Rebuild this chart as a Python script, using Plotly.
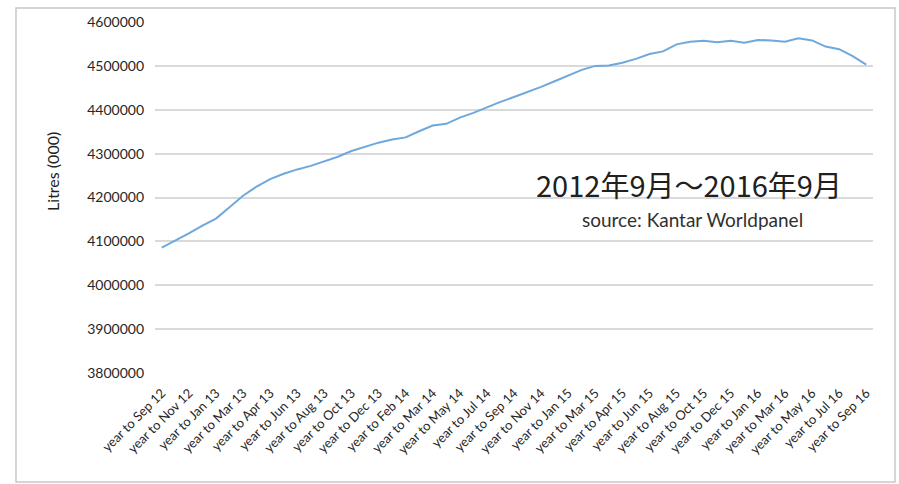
import plotly.graph_objects as go

# Period index (4-weekly Kantar periods) and annual-rolling volume, Litres (000)
periods = list(range(53))
volume = [
    4086000, 4102000, 4118000, 4136000, 4152000, 4178000, 4204000, 4225000,
    4242000, 4254000, 4264000, 4272000, 4282000, 4293000, 4306000, 4316000,
    4325000, 4332000, 4337000, 4351000, 4364000, 4368000, 4382000, 4393000,
    4406000, 4418000, 4429000, 4440000, 4452000, 4465000, 4478000, 4491000,
    4500000, 4501000, 4507000, 4516000, 4527000, 4533000, 4549000, 4555000,
    4557000, 4554000, 4557000, 4553000, 4559000, 4558000, 4555000, 4563000,
    4558000, 4544000, 4538000, 4522000, 4503000,
]

tick_positions = list(range(0, 53, 2))
tick_labels = [
    'year to Sep 12', 'year to Nov 12', 'year to Jan 13', 'year to Mar 13',
    'year to Apr 13', 'year to Jun 13', 'year to Aug 13', 'year to Oct 13',
    'year to Dec 13', 'year to Feb 14', 'year to Mar 14', 'year to May 14',
    'year to Jul 14', 'year to Sep 14', 'year to Nov 14', 'year to Jan 15',
    'year to Mar 15', 'year to Apr 15', 'year to Jun 15', 'year to Aug 15',
    'year to Oct 15', 'year to Dec 15', 'year to Jan 16', 'year to Mar 16',
    'year to May 16', 'year to Jul 16', 'year to Sep 16',
]

LINE_BLUE = '#6fa8dc'
GRID_GREY = '#d9d9d9'
TEXT_COL = '#262626'

fig = go.Figure()

fig.add_trace(go.Scatter(
    x=periods,
    y=volume,
    mode='lines',
    line=dict(color=LINE_BLUE, width=2),
    showlegend=False,
))

fig.update_layout(
    width=899,
    height=484,
    margin=dict(l=155, r=26, t=22, b=111),
    paper_bgcolor='white',
    plot_bgcolor='white',
    font=dict(family='Lato, Carlito, sans-serif', color=TEXT_COL),
)

fig.update_xaxes(
    range=[-0.5, 52.5],
    tickmode='array',
    tickvals=tick_positions,
    ticktext=tick_labels,
    tickangle=-45,
    tickfont=dict(size=13, color=TEXT_COL),
    showgrid=False,
    zeroline=False,
    showline=False,
    ticks='',
    ticklabelstandoff=9,
    automargin=False,
)

fig.update_yaxes(
    range=[3800000, 4600000],
    dtick=100000,
    tickformat='d',
    tickfont=dict(size=14, color=TEXT_COL),
    showgrid=True,
    gridcolor=GRID_GREY,
    gridwidth=1.5,
    zeroline=False,
    showline=False,
    ticks='',
    ticklabelstandoff=10,
    automargin=False,
)

# y axis title placed like the original
fig.add_annotation(
    text='Litres (000)', textangle=-90,
    xref='paper', yref='paper', x=-0.142, y=0.573,
    xanchor='center', yanchor='middle',
    showarrow=False, font=dict(size=16, color='#202020'),
)

# period and source note
fig.add_annotation(
    text='2012年9月～2016年9月',
    xref='paper', yref='paper', x=0.744, y=0.539,
    xanchor='center', yanchor='middle',
    showarrow=False,
    font=dict(size=29, color='#202020', family='Noto Sans CJK JP'),
)
fig.add_annotation(
    text='source: Kantar Worldpanel',
    xref='paper', yref='paper', x=0.748, y=0.436,
    xanchor='center', yanchor='middle',
    showarrow=False,
    font=dict(size=19, color='#303030'),
)

# light frame around the chart
fig.add_shape(
    type='rect', xref='paper', yref='paper',
    x0=-0.1936, x1=1.0306, y0=-0.3105, y1=1.0399,
    line=dict(color='#c8c8c8', width=1.5), layer='below',
)

# drop the default page margin so the figure sits at the window corner
fig.write_html(
    'out.html',
    config={'displayModeBar': False},
    post_script="document.body.style.margin='0';",
)
